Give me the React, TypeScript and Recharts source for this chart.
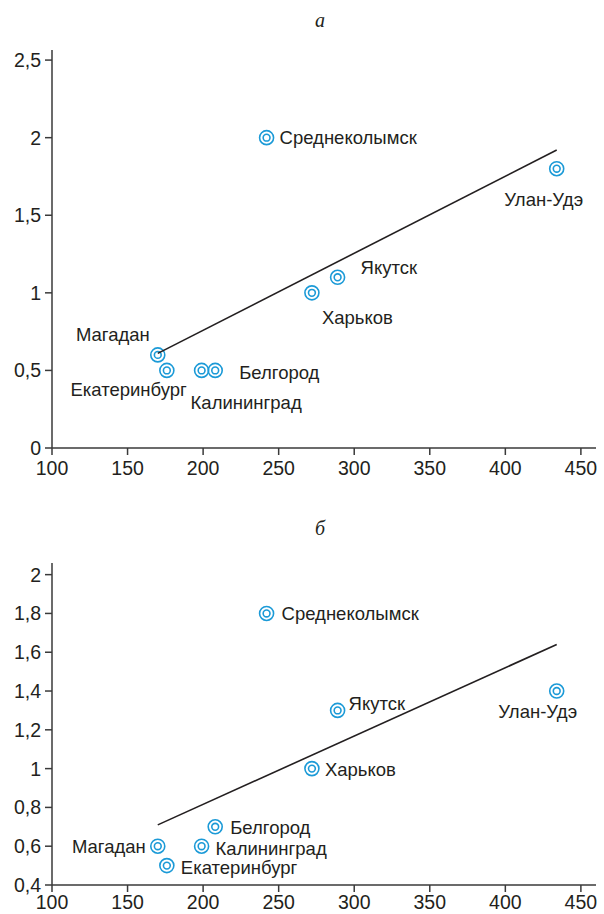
import React from "react";
import { ScatterChart, Scatter, XAxis, YAxis } from "recharts";

const cities = [
  "Магадан",
  "Екатеринбург",
  "Калининград",
  "Белгород",
  "Среднеколымск",
  "Харьков",
  "Якутск",
  "Улан-Удэ",
];
const xValues = [170, 176, 199, 208, 242, 272, 289, 434];
const yValuesA = [0.6, 0.5, 0.5, 0.5, 2.0, 1.0, 1.1, 1.8];
const yValuesB = [0.6, 0.5, 0.6, 0.7, 1.8, 1.0, 1.3, 1.4];

const trendA = [
  { x: 170, y: 0.61 },
  { x: 434, y: 1.92 },
];
const trendB = [
  { x: 170, y: 0.71 },
  { x: 434, y: 1.64 },
];

const xTicks = [100, 150, 200, 250, 300, 350, 400, 450];
const yTicksA = [0, 0.5, 1, 1.5, 2, 2.5];
const yTicksB = [0.4, 0.6, 0.8, 1, 1.2, 1.4, 1.6, 1.8, 2];

type Place = { dx: number; dy: number; anchor: "start" | "middle" | "end" };

// label offsets from the marker centre, per city
const placeA: Record<string, Place> = {
  "Магадан": { dx: -8, dy: -20, anchor: "end" },
  "Екатеринбург": { dx: 20, dy: 19, anchor: "end" },
  "Калининград": { dx: -11, dy: 32, anchor: "start" },
  "Белгород": { dx: 24, dy: 2, anchor: "start" },
  "Среднеколымск": { dx: 13, dy: 0, anchor: "start" },
  "Харьков": { dx: 10, dy: 25, anchor: "start" },
  "Якутск": { dx: 23, dy: -10, anchor: "start" },
  "Улан-Удэ": { dx: -13, dy: 31, anchor: "middle" },
};
const placeB: Record<string, Place> = {
  "Магадан": { dx: -12, dy: 0, anchor: "end" },
  "Екатеринбург": { dx: 14, dy: 2, anchor: "start" },
  "Калининград": { dx: 14, dy: 2, anchor: "start" },
  "Белгород": { dx: 15, dy: 1, anchor: "start" },
  "Среднеколымск": { dx: 15, dy: 0, anchor: "start" },
  "Харьков": { dx: 13, dy: 1, anchor: "start" },
  "Якутск": { dx: 11, dy: -7, anchor: "start" },
  "Улан-Удэ": { dx: -19, dy: 20, anchor: "middle" },
};

const FONT = "'Liberation Sans', Arial, Helvetica, sans-serif";
const TEXT = "#231f20";
const AXIS = "#3a3a3a";
const BLUE = "#1b9ad7";

const fmt = (v: number) => String(v).replace(".", ",");

const makeShape = (place: Record<string, Place>) => (props: any) => {
  const { cx, cy, payload } = props;
  const p = place[payload.name];
  return (
    <g>
      <circle cx={cx} cy={cy} r={7} fill="none" stroke={BLUE} strokeWidth={1.6} />
      <circle cx={cx} cy={cy} r={3.4} fill="none" stroke={BLUE} strokeWidth={1.6} />
      <text
        x={cx + p.dx}
        y={cy + p.dy}
        textAnchor={p.anchor}
        dominantBaseline="central"
        fontFamily={FONT}
        fontSize={18.5}
        fill={TEXT}
      >
        {payload.name}
      </text>
    </g>
  );
};

function Panel({
  ys,
  trend,
  yTicks,
  yDomain,
  place,
  height,
  margin,
  xGap,
}: {
  ys: number[];
  trend: { x: number; y: number }[];
  yTicks: number[];
  yDomain: [number, number];
  place: Record<string, Place>;
  height: number;
  margin: { top: number; right: number; bottom: number; left: number };
  xGap: number;
}) {
  const data = cities.map((name, i) => ({ name, x: xValues[i], y: ys[i] }));
  const tick = { fontFamily: FONT, fontSize: 19.5, fill: TEXT };
  return (
    <ScatterChart width={604} height={height} margin={margin}>
      <XAxis
        type="number"
        dataKey="x"
        domain={[100, 460]}
        ticks={xTicks}
        allowDataOverflow
        tick={tick}
        tickFormatter={fmt}
        tickSize={7}
        tickMargin={xGap}
        height={24}
        stroke={AXIS}
        strokeWidth={1.5}
        interval={0}
      />
      <YAxis
        type="number"
        dataKey="y"
        domain={yDomain}
        ticks={yTicks}
        allowDataOverflow
        tick={tick}
        tickFormatter={fmt}
        tickSize={7}
        tickMargin={4}
        width={44}
        stroke={AXIS}
        strokeWidth={1.5}
        interval={0}
      />
      <Scatter data={data} shape={makeShape(place)} isAnimationActive={false} />
      <Scatter
        data={trend}
        line={{ stroke: TEXT, strokeWidth: 1.6 }}
        shape={() => <g />}
        isAnimationActive={false}
      />
    </ScatterChart>
  );
}

const titleStyle: React.CSSProperties = {
  position: "absolute",
  left: 0,
  width: 640,
  textAlign: "center",
  fontFamily: "'Liberation Serif', 'DejaVu Serif', serif",
  fontStyle: "italic",
  fontSize: 20,
  color: TEXT,
  lineHeight: "20px",
};

export default function App() {
  return (
    <div
      style={{
        position: "absolute",
        left: 0,
        top: 0,
        width: 604,
        height: 914,
        background: "#fff",
      }}
    >
      <div style={{ ...titleStyle, top: 10 }}>а</div>
      <div style={{ position: "absolute", left: 0, top: 0 }}>
        <Panel
          ys={yValuesA}
          trend={trendA}
          yTicks={yTicksA}
          yDomain={[0, 2.565]}
          place={placeA}
          height={480}
          margin={{ top: 50, right: 8, bottom: 8, left: 8 }}
          xGap={6}
        />
      </div>
      <div style={{ ...titleStyle, top: 518 }}>б</div>
      <div style={{ position: "absolute", left: 0, top: 500 }}>
        <Panel
          ys={yValuesB}
          trend={trendB}
          yTicks={yTicksB}
          yDomain={[0.4, 2.06]}
          place={placeB}
          height={414}
          margin={{ top: 63, right: 8, bottom: 5, left: 8 }}
          xGap={3}
        />
      </div>
    </div>
  );
}
